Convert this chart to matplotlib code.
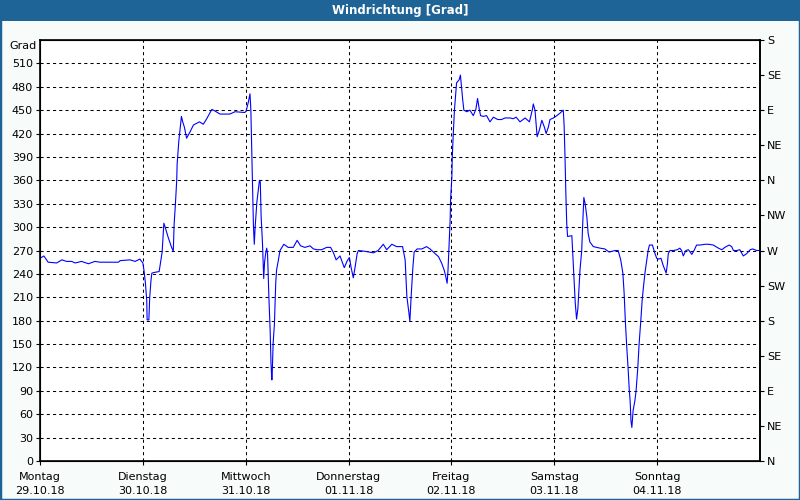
import matplotlib
matplotlib.use("Agg")
import matplotlib.pyplot as plt
from matplotlib.patches import Rectangle

title = "Windrichtung [Grad]"
y_unit = "Grad"
day_names = ["Montag", "Dienstag", "Mittwoch", "Donnerstag", "Freitag", "Samstag", "Sonntag"]
day_dates = ["29.10.18", "30.10.18", "31.10.18", "01.11.18", "02.11.18", "03.11.18", "04.11.18"]
compass = ["N", "NE", "E", "SE", "S", "SW", "W", "NW", "N", "NE", "E", "SE", "S"]

hours = [0.0, 0.9, 1.9, 3.9, 5.1, 6.2, 7.4, 8.2, 9.7, 11.3, 12.8, 14.0, 18.3, 18.7, 21.0, 22.2, 23.3,
         24.0, 24.3, 24.6, 24.9, 25.0, 25.4, 25.6, 25.9, 26.1, 26.8, 27.8, 28.0, 28.5, 28.9, 29.2, 29.9,
         30.7, 31.1, 31.3, 31.6, 31.9, 32.0, 32.4, 33.0, 33.3, 33.7, 34.2, 35.0, 35.8, 37.2, 38.1, 38.9,
         40.1, 40.8, 42.0, 44.3, 45.5, 47.8,
         48.1, 48.6, 49.0, 49.2, 49.4, 49.6, 49.8, 50.0, 50.2, 50.6, 51.2, 51.4, 51.6, 51.9, 52.1, 52.2,
         52.4, 52.7, 52.9, 53.1, 53.4, 53.7, 53.9, 54.1, 54.2, 54.4, 54.7, 55.0, 55.2, 55.6, 56.0, 56.9,
         57.9, 59.1, 60.0, 60.8, 61.8, 63.0, 63.8, 64.7, 65.7, 66.9, 67.8, 68.4, 69.1, 70.0, 71.0, 71.7,
         72.2, 72.6, 73.1, 73.5, 74.0, 74.3, 75.8, 77.8, 78.9, 80.1, 80.9, 82.1, 83.2, 84.6, 85.2, 85.6,
         86.1, 86.3, 86.6, 87.0, 87.3, 88.0, 89.1, 90.2, 91.0, 91.8, 93.0, 93.7, 94.3, 94.7, 95.0, 95.2,
         95.4, 95.7, 95.8, 96.1, 96.2, 96.4, 96.7, 97.0, 97.2, 97.8, 98.1, 98.6, 98.9, 99.6, 100.3, 101.1,
         101.7, 102.1, 102.5, 102.8, 103.4, 104.2, 105.0, 105.8, 106.8, 107.7, 108.5, 109.7, 110.4, 111.1,
         112.0, 113.2, 114.2, 114.9, 115.1, 115.5, 116.0, 116.5, 117.1, 117.7, 118.1, 118.6, 119.0, 119.8,
         120.6, 121.3, 122.1, 122.3, 122.5, 122.7, 122.9, 123.1, 124.1, 124.3, 124.6, 124.9, 125.2, 125.5,
         125.7, 126.0, 126.4, 126.6, 126.9, 127.2, 127.6, 127.9, 128.3, 129.1, 130.7, 131.8, 132.8, 134.2,
         134.9, 135.5, 136.0, 136.3, 136.6, 136.9, 137.2, 137.5, 137.7, 137.9, 138.1, 138.2, 138.4, 138.8,
         139.1, 139.5, 139.8, 140.2, 140.5, 140.8, 141.2, 141.6, 141.9, 142.2, 142.9, 143.5, 143.9, 144.3,
         144.9, 145.4, 146.1, 146.4, 146.6, 147.0, 147.8, 148.7, 149.3, 149.7, 150.1, 150.7, 151.3, 152.1,
         152.7, 153.2, 154.0, 155.2, 156.0, 157.1, 158.3, 159.1, 159.8, 160.8, 161.4, 161.8, 162.6, 163.3,
         164.1, 164.9, 165.7, 166.3, 167.2, 168.0]

direction = [260, 263, 255, 254, 258, 256, 256, 254, 256, 253, 256, 255, 255, 257, 258, 256, 259,
             254, 243, 228, 206, 181, 181, 210, 232, 241, 242, 243, 250, 268, 305, 300, 287,
             274, 269, 304, 330, 360, 381, 411, 442, 435, 428, 414, 422, 431, 435, 432, 439,
             451, 449, 445, 445, 448, 447,
             449, 460, 471, 450, 398, 351, 302, 278, 300, 332, 360, 358, 313, 281, 249, 234,
             255, 268, 273, 265, 211, 168, 125, 104, 115, 151, 176, 228, 245, 257, 270, 278,
             274, 274, 283, 276, 274, 276, 272, 271, 271, 274, 274, 268, 258, 263, 248, 257,
             261, 248, 235, 248, 266, 270, 269, 267, 270, 278, 271, 278, 275, 275, 258, 211,
             189, 179, 211, 248, 268, 272, 272, 275, 272, 268, 262, 254, 245, 236, 228, 245,
             270, 309, 335, 364, 390, 416, 450, 471, 485, 489, 495, 465, 450, 448, 450, 443,
             451, 465, 451, 443, 442, 443, 435, 441, 438, 438, 440, 440, 439, 441,
             435, 440, 435, 451, 458, 450, 416, 424, 437, 428, 420, 428, 438, 440,
             443, 446, 450, 430, 390, 343, 305, 288, 289, 268, 234, 202, 182, 195,
             215, 245, 270, 300, 338, 330, 313, 292, 281, 275, 273, 272, 268, 270,
             270, 258, 241, 215, 177, 147, 121, 91, 77, 51, 43, 51, 65, 77,
             91, 121, 151, 181, 206, 223, 243, 258, 270, 277, 277, 266, 260, 259,
             260, 251, 241, 253, 266, 270, 270, 271, 273, 270, 263, 270, 271, 265,
             271, 277, 277, 278, 278, 277, 273, 271, 274, 277, 275, 270, 270, 271,
             263, 266, 271, 272, 270, 270]

assert len(hours) == len(direction)

BLUE_BAR = "#1e6496"
BG = "#f7fbfa"
plt.rcParams["font.family"] = ["DejaVu Sans"]

fig = plt.figure(figsize=(8, 5), dpi=100, facecolor=BG)
ax = fig.add_axes([40 / 800, 1 - 461 / 500, 720 / 800, 421 / 500])
ax.set_facecolor("white")

ax.plot(hours, direction, color="#0000ff", lw=0.8, zorder=3)

ax.set_xlim(0, 168)
ax.set_ylim(0, 540)

yt = list(range(0, 511, 30))
ax.set_yticks(yt)
ax.set_yticklabels([str(v) for v in yt], fontsize=8)
xt = [24 * i for i in range(7)]
ax.set_xticks(xt)
ax.set_xticklabels([f"{n}\n{d}" for n, d in zip(day_names, day_dates)], fontsize=8, linespacing=1.45)
ax.tick_params(axis="both", length=3, width=0.8, color="black", pad=2)
ax.tick_params(axis="x", pad=5)

for v in yt[1:]:
    ax.axhline(v, color="black", lw=0.75, ls=(0, (3, 3)), zorder=1)
for h in xt[1:]:
    ax.axvline(h, color="black", lw=0.75, ls=(0, (3, 3)), zorder=1)

for s in ax.spines.values():
    s.set_linewidth(1.2)
    s.set_color("black")

ax2 = ax.twinx()
ax2.set_ylim(0, 540)
ax2.set_yticks(list(range(0, 541, 45)))
ax2.set_yticklabels(compass, fontsize=8)
ax2.tick_params(axis="y", length=3, width=0.8, pad=2)
ax2.spines["right"].set_linewidth(1.2)

fig.text(37 / 800, 1 - 46 / 500, y_unit, ha="right", va="center", fontsize=8)

fig.add_artist(Rectangle((0, 1 - 21 / 500), 1, 21 / 500, transform=fig.transFigure,
                         facecolor=BLUE_BAR, edgecolor="none", zorder=0))
fig.text(0.5, 1 - 10.5 / 500, title, ha="center", va="center", color="white",
         fontsize=8.5, fontweight="bold")
fig.add_artist(Rectangle((0, 0), 1, 1, transform=fig.transFigure, fill=False,
                         edgecolor=BLUE_BAR, lw=2.5, zorder=10))

fig.savefig("out.png", dpi=100, facecolor=BG)
